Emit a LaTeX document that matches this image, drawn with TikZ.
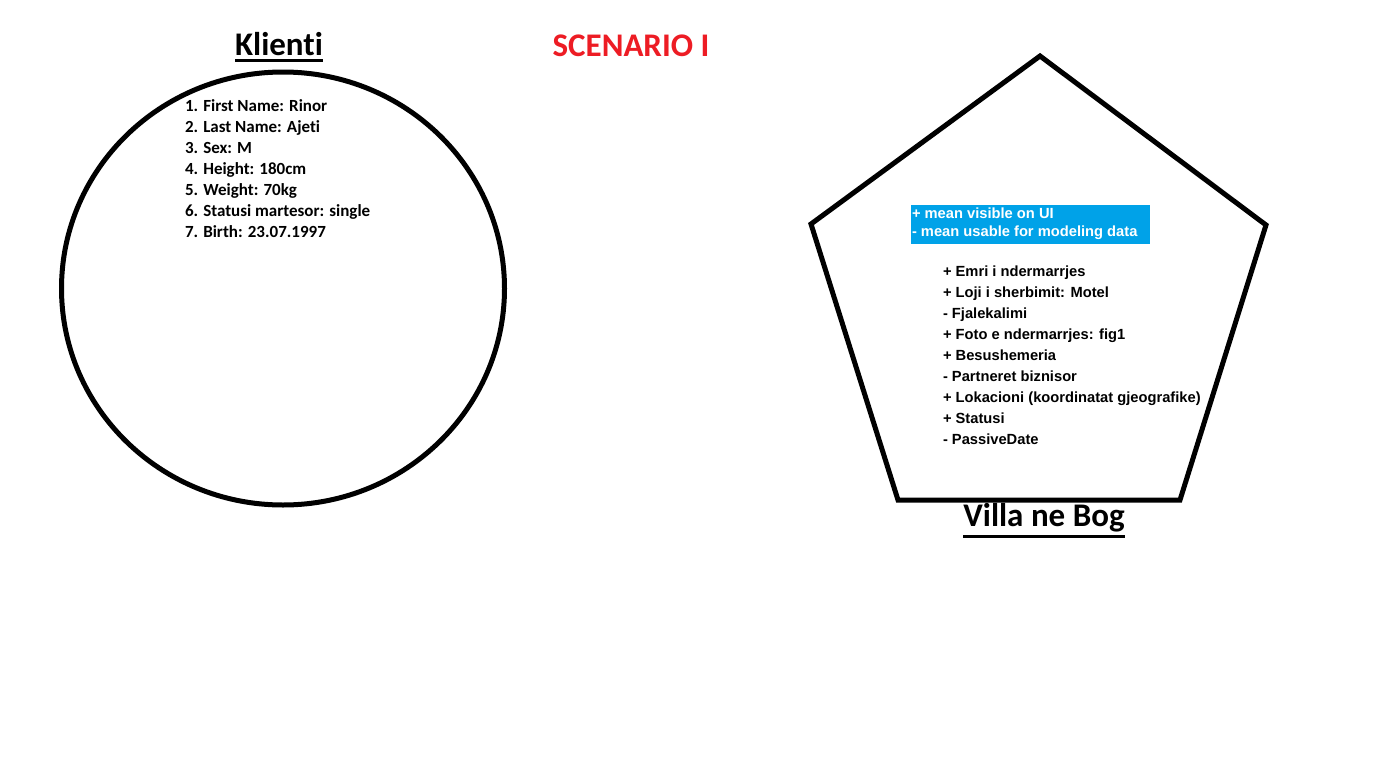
\documentclass[tikz,border=0pt]{standalone}
\usepackage{fontspec}
\setmainfont{Carlito}[Ligatures=NoCommon]
\newfontfamily\arialfont{Liberation Sans}
\definecolor{scenred}{RGB}{237,28,36}
\definecolor{paintblue}{RGB}{0,162,232}

\begin{document}
\begin{tikzpicture}[
x = 1pt, y = -1pt,
every node/.style = {inner sep=0pt, outer sep=0pt},
titull/.style = {anchor=base, font=\fontsize{33}{38}\selectfont\bfseries},
vija/.style = {line width=3pt},
forma/.style = {line width=5pt},
lista/.style = {anchor=base west, align=left, font=\fontsize{17}{21}\selectfont\bfseries},
fusha/.style = {anchor=base west, align=left, font=\arialfont\fontsize{14.7}{21}\selectfont\bfseries}
]
\useasboundingbox (0,0) rectangle (1373,771);

\node[titull] (klienti) at (279,55) {Klienti};
\draw[vija] ([yshift=-5pt]klienti.base west) -- ([yshift=-5pt]klienti.base east);
\node[titull, text=scenred] (scenario) at (631,56) {SCENARIO I};

\draw[forma] (283,288.5) ellipse [x radius=221.5, y radius=216.5];
\node[lista] (klientdata) at (185,237) {1. First Name: Rinor\\
2. Last Name: Ajeti\\
3. Sex: M\\
4. Height: 180cm\\
5. Weight: 70kg\\
6. Statusi martesor: single\\
7. Birth: 23.07.1997};

\draw[forma] (1040,56) -- (1266,225) -- (1180,500) -- (898,500) -- (811,224) -- cycle;
\fill[paintblue] (911,205) rectangle (1150,244);
\node[fusha, text=white, font=\arialfont\fontsize{14.7}{18}\selectfont\bfseries] (legjenda) at (912,236) {+ mean visible on UI\\
- mean usable for modeling data};
\node[fusha] (villadata) at (943,444) {+ Emri i ndermarrjes\\
+ Loji i sherbimit: Motel\\
- Fjalekalimi\\
+ Foto e ndermarrjes: fig1\\
+ Besushemeria\\
- Partneret biznisor\\
+ Lokacioni (koordinatat gjeografike)\\
+ Statusi\\
- PassiveDate};

\node[titull] (villa) at (1044,526) {Villa ne Bog};
\draw[vija] ([yshift=-10pt]villa.base west) -- ([yshift=-10pt]villa.base east);
\end{tikzpicture}
\end{document}
